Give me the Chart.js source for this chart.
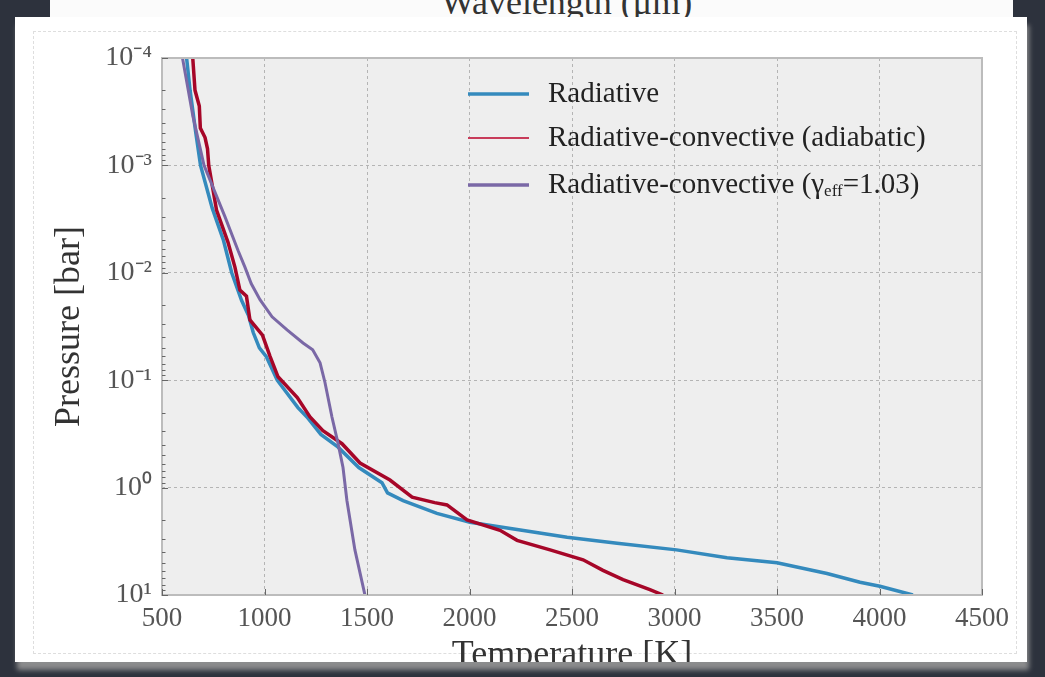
<!DOCTYPE html>
<html>
<head>
<meta charset="utf-8">
<script src="https://cdn.jsdelivr.net/npm/chart.js@4"></script>
<style>
html,body{margin:0;padding:0;width:1045px;height:677px;overflow:hidden;background:#2d323d;}
#back{position:absolute;left:50px;top:-30px;width:963px;height:60px;background:#fbfbfb;}
#backTitle{position:absolute;left:70px;right:0;top:14px;text-align:center;font:36px "Liberation Serif",serif;line-height:36px;color:#333;}
#paper{position:absolute;left:15px;top:17px;width:1012px;height:645px;background:#fff;overflow:hidden;box-shadow:2px 8px 5px rgba(150,150,150,0.9);}
#deckle{position:absolute;left:18px;top:14px;right:10px;bottom:8px;border:1px dashed #dedede;}
#paper canvas{position:absolute;left:-15px;top:-17px;}
</style>
</head>
<body>
<div id="back"><div id="backTitle">Wavelength (μm)</div></div>
<div id="paper"><div id="deckle"></div><canvas id="c" width="1045" height="677"></canvas></div>
<script>
// ---- data ----
const tempRadiative = [620,637,665,688,745,800,840,888,922,945,975,1008,1062,1163,1207,1275,1359,1460,1573,1600,1676,1841,2002,2232,2476,2720,3010,3256,3500,3744,3905,4002,4163];
const presRadiative = [1.0e-4,2.0e-4,5.0e-4,1.0e-3,2.5e-3,5.0e-3,1.0e-2,1.8e-2,2.5e-2,3.6e-2,5.0e-2,6.0e-2,1.0e-1,1.8e-1,2.2e-1,3.2e-1,4.2e-1,6.5e-1,0.9,1.12,1.32,1.74,2.1,2.45,2.9,3.3,3.8,4.5,5.0,6.3,7.6,8.3,10];

const tempAdiabatic = [650,661,682,687,710,722,728,766,822,856,880,912,929,990,1027,1066,1160,1222,1285,1378,1466,1612,1720,1830,1890,1988,2149,2232,2393,2554,2651,2749,2880,2944];
const presAdiabatic = [1.0e-4,2.0e-4,2.8e-4,4.5e-4,5.5e-4,7.0e-4,1.0e-3,2.6e-3,5.2e-3,8.9e-3,1.45e-2,1.65e-2,2.75e-2,3.8e-2,6.0e-2,9.3e-2,1.45e-1,2.2e-1,2.95e-1,3.9e-1,5.9e-1,8.5e-1,1.23,1.38,1.45,2.0,2.5,3.1,3.8,4.7,5.9,7.2,8.9,10];

const tempGamma = [600,651,705,807,871,905,935,978,1037,1110,1188,1235,1271,1295,1329,1359,1383,1402,1441,1490];
const presGamma = [1.0e-4,3.5e-4,1.0e-3,3.0e-3,6.2e-3,8.9e-3,1.26e-2,1.78e-2,2.57e-2,3.4e-2,4.5e-2,5.2e-2,6.9e-2,1.05e-1,2.2e-1,3.9e-1,6.5e-1,1.32,3.8,10];

const seriesLabels = ['Radiative','Radiative-convective (adiabatic)','Radiative-convective (γ_{eff}=1.03)'];
const seriesColors = ['#348ABD','#A60628','#7A68A6'];
const xTickValues = [500,1000,1500,2000,2500,3000,3500,4000,4500];
const yTickExponents = [-4,-3,-2,-1,0,1];

// ---- helpers ----
const SUP = {'-':'⁻','0':'⁰','1':'¹','2':'²','3':'³','4':'⁴','5':'⁵','6':'⁶','7':'⁷','8':'⁸','9':'⁹'};
function pow10Exp(v){
  const e = Math.round(Math.log10(v));
  return Math.abs(v/Math.pow(10,e) - 1) < 1e-6 ? e : null;
}
function supLabel(e){ return '10' + String(e).split('').map(ch=>SUP[ch]).join(''); }
function pts(t,p){ return t.map((x,i)=>({x:x,y:p[i]})); }
function plainLabel(s){ return s.replace(/_\{([^}]*)\}/g,'$1'); }

const FONT = '"Liberation Serif", serif';
Chart.defaults.font.family = FONT;

const decor = {
  id:'decor',
  beforeDraw(chart){
    const {ctx, chartArea:a} = chart;
    ctx.save();
    ctx.fillStyle = '#eeeeee';
    ctx.fillRect(a.left, a.top, a.right-a.left, a.bottom-a.top);
    ctx.restore();
  },
  afterDatasetsDraw(chart){
    const {ctx, chartArea:a, scales} = chart;
    ctx.save();
    // frame
    ctx.strokeStyle = '#bcbcbc';
    ctx.lineWidth = 2;
    ctx.strokeRect(a.left, a.top, a.right-a.left, a.bottom-a.top);
    // y ticks (inside, left)
    ctx.strokeStyle = '#666';
    ctx.lineWidth = 1;
    scales.y.ticks.forEach(t=>{
      const py = Math.round(scales.y.getPixelForValue(t.value)) + 0.5;
      const len = pow10Exp(t.value) !== null ? 6 : 3.5;
      ctx.beginPath(); ctx.moveTo(a.left, py); ctx.lineTo(a.left+len, py); ctx.stroke();
    });
    // x ticks (inside, bottom)
    scales.x.ticks.forEach(t=>{
      const px = Math.round(scales.x.getPixelForValue(t.value)) + 0.5;
      ctx.beginPath(); ctx.moveTo(px, a.bottom); ctx.lineTo(px, a.bottom-6); ctx.stroke();
    });
    // legend
    const lx0 = a.left + 306, lx1 = a.left + 367, tx = a.left + 386;
    const rows = [a.top + 36, a.top + 80, a.top + 127];
    const lw = [3.5, 2, 3.5];
    const lc = ['#348ABD','#c83c5a','#7A68A6'];
    ctx.textBaseline = 'middle';
    ctx.fillStyle = '#222';
    seriesLabels.forEach((lab,i)=>{
      const y = rows[i];
      ctx.strokeStyle = lc[i]; ctx.lineWidth = lw[i];
      ctx.beginPath(); ctx.moveTo(lx0, y); ctx.lineTo(lx1, y); ctx.stroke();
      const parts = lab.split(/_\{([^}]*)\}/);
      let x = tx;
      parts.forEach((p,k)=>{
        if (k % 2 === 1) {
          ctx.font = '17px ' + FONT;
          ctx.fillText(p, x, y + 7);
        } else {
          ctx.font = '29px ' + FONT;
          ctx.fillText(p, x, y);
        }
        x += ctx.measureText(p).width;
      });
    });
    ctx.restore();
  }
};

const datasets = [
  {label: plainLabel(seriesLabels[0]), data: pts(tempRadiative, presRadiative), borderColor: seriesColors[0], borderWidth: 3.5, order: 3},
  {label: plainLabel(seriesLabels[1]), data: pts(tempAdiabatic, presAdiabatic), borderColor: seriesColors[1], borderWidth: 3.5, order: 2},
  {label: plainLabel(seriesLabels[2]), data: pts(tempGamma, presGamma), borderColor: seriesColors[2], borderWidth: 3, order: 1}
].map(d=>Object.assign(d,{showLine:true, pointRadius:0, tension:0, fill:false, backgroundColor:d.borderColor}));

new Chart(document.getElementById('c'), {
  type:'scatter',
  data:{datasets},
  options:{
    responsive:false,
    animation:false,
    events:[],
    layout:{padding:{left:44, top:58, right:63, bottom:0}},
    plugins:{legend:{display:false}, tooltip:{enabled:false}},
    scales:{
      x:{
        type:'linear', min:500, max:4500,
        afterFit(s){ s.height = 82; },
        afterBuildTicks(s){ s.ticks = xTickValues.map(v=>({value:v})); },
        grid:{color:'#b4b4b4', lineWidth:1, drawTicks:false},
        border:{display:false, dash:[3,3]},
        ticks:{padding:8, color:'#555', autoSkip:false, maxRotation:0, font:{size:27}, callback:v=>String(v)},
        title:{display:true, text:'Temperature [K]', color:'#333', font:{size:36}, padding:{top:0,bottom:0}}
      },
      y:{
        type:'logarithmic', reverse:true, min:1e-4, max:10,
        afterFit(s){ s.width = 118; },
        afterBuildTicks(s){
          const t = [];
          yTickExponents.forEach((e,i)=>{
            t.push({value:Math.pow(10,e), major:true});
            if (i < yTickExponents.length-1) for (let m=2;m<=9;m++) t.push({value:m*Math.pow(10,e)});
          });
          s.ticks = t;
        },
        grid:{color:c=>(c.tick && pow10Exp(c.tick.value)!==null) ? '#b4b4b4' : 'rgba(0,0,0,0)', lineWidth:1, drawTicks:false},
        border:{display:false, dash:[3,3]},
        ticks:{padding:10, color:'#555', autoSkip:false, font:{size:28}, callback:v=>{const e=pow10Exp(v); return e===null?'':supLabel(e);}},
        title:{display:true, text:'Pressure [bar]', color:'#333', font:{size:36}, padding:{top:4,bottom:4}}
      }
    }
  },
  plugins:[decor]
});
</script>
</body>
</html>
